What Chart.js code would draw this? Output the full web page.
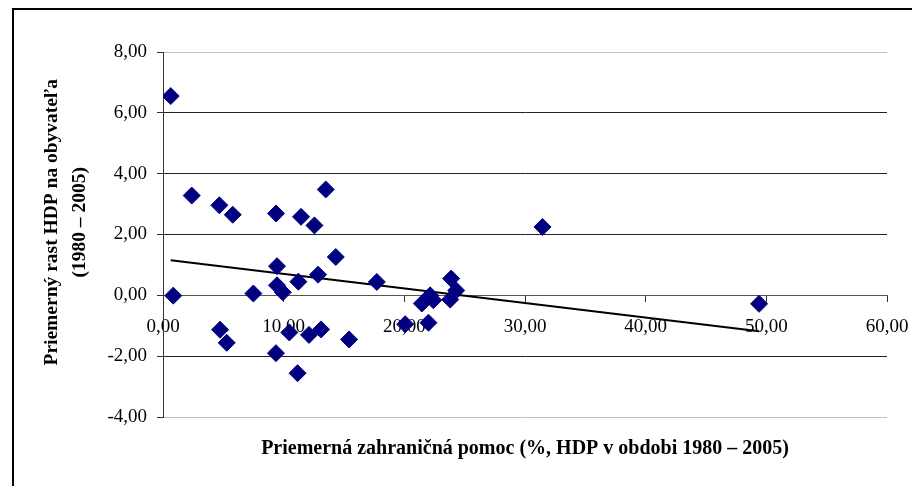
<!DOCTYPE html>
<html>
<head>
<meta charset="utf-8">
<script src="https://cdn.jsdelivr.net/npm/chart.js@4"></script>
<style>
  body { margin: 0; background: white; overflow: hidden; }
  #ramik { position: absolute; left: 12px; top: 8px; width: 1000px; height: 600px; border: 2px solid black; }
  #obal { position: absolute; left: 0; top: 0; width: 912px; height: 486px; }
</style>
</head>
<body>
<div id="ramik"></div>
<div id="obal"><canvas id="myChart" width="912" height="486"></canvas></div>
<script>
// pomoc v % HDP (x) a rast HDP na obyvatela (y)
const pomoc = [0.64, 0.85, 2.38, 4.67, 5.78, 9.37, 11.44, 12.55, 13.49, 14.32,
  9.45, 12.85, 11.22, 17.72, 9.45, 9.93, 7.49, 4.73, 5.28, 10.47,
  12.1, 13.1, 15.42, 9.36, 11.15, 20.07, 22.0, 31.45, 23.88, 24.3,
  22.14, 21.45, 22.4, 23.8, 49.4];
const rast = [6.55, -0.01, 3.28, 2.96, 2.65, 2.69, 2.58, 2.30, 3.48, 1.26,
  0.96, 0.68, 0.45, 0.44, 0.33, 0.10, 0.06, -1.13, -1.56, -1.22,
  -1.3, -1.12, -1.45, -1.90, -2.56, -0.95, -0.9, 2.25, 0.55, 0.16,
  0.0, -0.27, -0.16, -0.14, -0.28];

// linearny trend - koncove body
const trendX = [0.64, 49.4];
const trendY = [1.15, -1.18];

const xTicks = [0, 10, 20, 30, 40, 50, 60];
const yTicks = [-4, -2, 0, 2, 4, 6, 8];

const body = pomoc.map((x, i) => ({ x: x, y: rast[i] }));
const trend = trendX.map((x, i) => ({ x: x, y: trendY[i] }));

const ciarka = v => v.toFixed(2).replace(".", ",");
const posun = "\u00a0\u00a0\u00a0\u00a0\u00a0"; // titulok osi y trochu vyssie
const bezOkraja = s => { s.paddingLeft = 0; s.paddingRight = 0; };

const config = {
  type: "scatter",
  data: {
    datasets: [
      {
        data: body,
        pointStyle: "rectRot",
        pointRadius: 8.5,
        pointHoverRadius: 8.5,
        backgroundColor: "#000080",
        borderColor: "#000080",
        borderWidth: 1
      },
      {
        type: "line",
        data: trend,
        borderColor: "black",
        borderWidth: 2,
        pointRadius: 0,
        fill: false
      }
    ]
  },
  options: {
    responsive: false,
    animation: false,
    layout: { padding: { top: 52, right: 25, left: 0, bottom: 0 } },
    plugins: { legend: { display: false }, tooltip: { enabled: false } },
    scales: {
      x: {
        type: "linear",
        min: 0, max: 60,
        position: { y: 0 },
        afterBuildTicks: s => { s.ticks = xTicks.map(v => ({ value: v })); },
        afterFit: bezOkraja,
        ticks: {
          callback: ciarka,
          color: "black",
          padding: 14,
          maxRotation: 0,
          font: { family: "Liberation Serif", size: 19 }
        },
        grid: { drawOnChartArea: false, tickLength: 6, tickColor: "#333" },
        border: { color: "#555", width: 1 }
      },
      x2: {
        type: "linear",
        min: 0, max: 60,
        position: "bottom",
        afterFit: s => { s.height = 69; bezOkraja(s); },
        ticks: { display: false },
        grid: { display: false },
        border: { display: false },
        title: {
          display: true,
          text: "Priemerná zahraničná pomoc (%, HDP v obdobi 1980 – 2005)",
          color: "black",
          font: { family: "Liberation Serif", size: 20, weight: "bold" },
          padding: { top: 0, bottom: 25 }
        }
      },
      y: {
        type: "linear",
        min: -4, max: 8,
        afterBuildTicks: s => { s.ticks = yTicks.map(v => ({ value: v })); },
        afterFit: s => { s.width = 163; },
        ticks: {
          callback: ciarka,
          color: "black",
          padding: 10,
          font: { family: "Liberation Serif", size: 19 }
        },
        grid: {
          color: c => (c.tick && (c.tick.value === 8 || c.tick.value === -4)) ? "#c0c0c0" : "#222",
          tickLength: 6,
          tickColor: "#333"
        },
        border: { color: "#333", width: 1 },
        title: {
          display: true,
          text: [posun + "Priemerný rast HDP na obyvateľa", posun + "(1980 – 2005)"],
          color: "black",
          font: { family: "Liberation Serif", size: 19.5, weight: "bold", lineHeight: 1.45 },
          padding: { top: 38, bottom: 0 }
        }
      }
    }
  }
};

const myChart = document.getElementById("myChart");
new Chart(myChart, config);
</script>
</body>
</html>
